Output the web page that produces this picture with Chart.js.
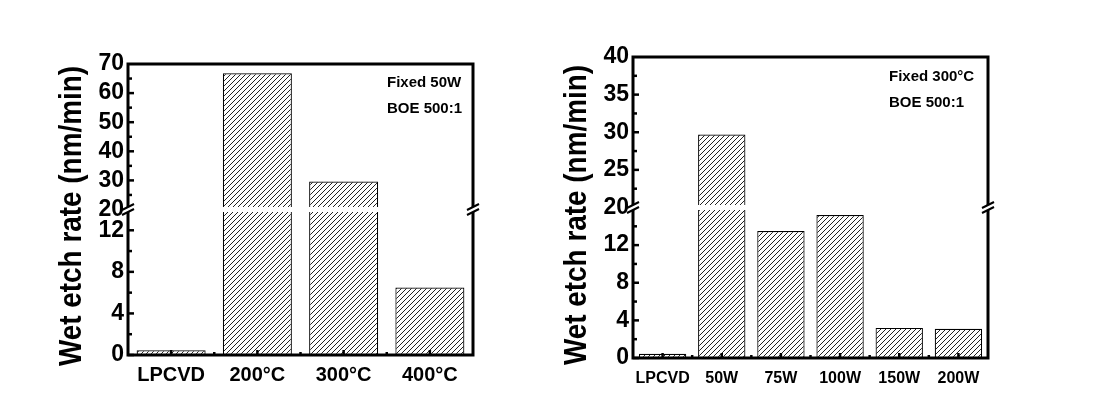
<!DOCTYPE html>
<html>
<head>
<meta charset="utf-8">
<script src="https://cdn.jsdelivr.net/npm/chart.js@4"></script>
<style>
  body { margin: 0; background: #fff; }
  .wrap { position: absolute; top: 0; height: 415px; }
</style>
</head>
<body>
<div class="wrap" style="left:0;width:540px"><canvas id="c1"></canvas></div>
<div class="wrap" style="left:540px;width:555px"><canvas id="c2"></canvas></div>
<script>
// data
const tempLabels = ['LPCVD', '200°C', '300°C', '400°C'];
const tempRates = [0.45, 66.8, 29.6, 6.5];
const powerLabels = ['LPCVD', '50W', '75W', '100W', '150W', '200W'];
const powerRates = [0.45, 29.7, 13.5, 15.2, 3.2, 3.1];

const FONT = "'Liberation Sans', Arial, sans-serif";

function hatch() {
	const s = 5;
	const c = document.createElement('canvas');
	c.width = s; c.height = s;
	const g = c.getContext('2d');
	g.fillStyle = '#fff';
	g.fillRect(0, 0, s, s);
	g.strokeStyle = '#222';
	g.lineWidth = 1;
	g.beginPath();
	g.moveTo(0, s); g.lineTo(s, 0);
	g.moveTo(-1, 1); g.lineTo(1, -1);
	g.moveTo(s - 1, s + 1); g.lineTo(s + 1, s - 1);
	g.stroke();
	return g.createPattern(c, 'repeat');
}

// frame, break, inward ticks, notes, y title
const decor = {
	id: 'decor',
	afterDatasetsDraw(chart, args, o) {
		const ctx = chart.ctx;
		const a = chart.chartArea;
		const yb = chart.scales.y.top;
		ctx.save();
		// white gap through the bars
		ctx.fillStyle = '#fff';
		ctx.fillRect(a.left + 2, yb - 2.5, a.right - a.left - 4, 5);
		// frame
		ctx.strokeStyle = '#000';
		ctx.lineWidth = 3;
		ctx.strokeRect(a.left, a.top, a.right - a.left, a.bottom - a.top);
		// inward ticks on y
		ctx.lineWidth = 2.5;
		for (const id of ['y', 'yTop']) {
			const sc = chart.scales[id];
			sc.ticks.forEach(t => {
				if (t.value === sc.min && id === 'yTop') return;
				if (t.value === sc.max) return;
				const py = sc.getPixelForValue(t.value);
				const len = t.label !== '' ? 6 : 4;
				ctx.beginPath();
				ctx.moveTo(a.left, py);
				ctx.lineTo(a.left + len, py);
				ctx.stroke();
			});
		}
		// x ticks
		const xs = chart.scales.x;
		const n = xs.ticks.length;
		const w = (a.right - a.left) / n;
		for (let i = 0; i < n; i++) {
			const px = xs.getPixelForValue(i);
			ctx.beginPath();
			ctx.moveTo(px, a.bottom);
			ctx.lineTo(px, a.bottom - 5);
			ctx.stroke();
			if (i > 0) {
				ctx.beginPath();
				ctx.moveTo(a.left + i * w, a.bottom);
				ctx.lineTo(a.left + i * w, a.bottom - 3);
				ctx.stroke();
			}
		}
		// axis breaks
		for (const x of [a.left, a.right]) {
			ctx.fillStyle = '#fff';
			ctx.fillRect(x - 3, yb - 2.5, 6, 5);
			ctx.lineWidth = 2;
			ctx.strokeStyle = '#000';
			for (const d of [-2.5, 2.5]) {
				ctx.beginPath();
				ctx.moveTo(x - 6, yb + d + 3);
				ctx.lineTo(x + 6, yb + d - 3);
				ctx.stroke();
			}
		}
		// notes
		ctx.fillStyle = '#000';
		ctx.font = 'bold 15px ' + FONT;
		ctx.textBaseline = 'middle';
		ctx.textAlign = 'left';
		o.notes.forEach((t, i) => ctx.fillText(t, o.noteX, o.noteY + i * 25.5));
		// y title, condensed
		ctx.translate(o.titleX, o.titleY);
		ctx.rotate(-Math.PI / 2);
		ctx.scale(0.9, 1);
		ctx.font = 'bold 31px ' + FONT;
		ctx.textAlign = 'center';
		ctx.fillText('Wet etch rate (nm/min)', 0, 0);
		ctx.restore();
	}
};

function makeChart(el, labels, values, cfg) {
	const pat = hatch();
	const lowMax = cfg.low.max;
	const upMin = cfg.up.min;
	const low = values.map(v => Math.min(v, lowMax));
	const up = values.map(v => v > upMin ? [upMin, v] : null);
	const tickFont = { family: FONT, size: 23, weight: 'bold' };
	return new Chart(el, {
		type: 'bar',
		data: {
			labels: labels,
			datasets: [
				{ data: low, yAxisID: 'y', backgroundColor: pat, borderColor: '#000', borderWidth: 1.2, borderSkipped: false, barPercentage: 0.8, categoryPercentage: 1 },
				{ data: up, yAxisID: 'yTop', backgroundColor: pat, borderColor: '#000', borderWidth: 1.2, borderSkipped: false, barPercentage: 0.8, categoryPercentage: 1, grouped: false }
			]
		},
		options: {
			responsive: true,
			maintainAspectRatio: false,
			animation: false,
			layout: { padding: cfg.pad },
			plugins: {
				legend: { display: false },
				tooltip: { enabled: false },
				decor: cfg.decor
			},
			scales: {
				x: {
					grid: { display: false, drawTicks: false },
					border: { display: false },
					ticks: { color: '#000', font: { family: FONT, size: cfg.xFont, weight: 'bold' }, padding: cfg.xPad, maxRotation: 0, autoSkip: false },
					afterFit: s => { s.height = 40; }
				},
				y: {
					type: 'linear', position: 'left', stack: 'v', stackWeight: 1,
					min: 0, max: lowMax,
					grid: { display: false, drawTicks: false },
					border: { display: false },
					ticks: { stepSize: cfg.low.step, autoSkip: false, color: '#000', font: tickFont, padding: 4,
						callback: v => v % cfg.low.every === 0 && v !== lowMax ? v : '' },
					afterFit: s => { s.width = 40; }
				},
				yTop: {
					type: 'linear', position: 'left', stack: 'v', stackWeight: 1,
					min: upMin, max: cfg.up.max,
					grid: { display: false, drawTicks: false },
					border: { display: false },
					ticks: { stepSize: cfg.up.step, autoSkip: false, color: '#000', font: tickFont, padding: 4,
						callback: v => v % cfg.up.every === 0 ? v : '' },
					afterFit: s => { s.width = 40; }
				}
			}
		},
		plugins: [decor]
	});
}

makeChart(document.getElementById('c1'), tempLabels, tempRates, {
	low: { max: 14, step: 2, every: 4 },
	up: { min: 20, max: 70, step: 5, every: 10 },
	pad: { left: 88, right: 67, top: 64, bottom: 20 },
	xFont: 20, xPad: 8,
	decor: { notes: ['Fixed 50W', 'BOE 500:1'], noteX: 387, noteY: 83, titleX: 72, titleY: 216 }
});

makeChart(document.getElementById('c2'), powerLabels, powerRates, {
	low: { max: 16, step: 2, every: 4 },
	up: { min: 20, max: 40, step: 2.5, every: 5 },
	pad: { left: 53, right: 107, top: 57, bottom: 17 },
	xFont: 16, xPad: 11,
	decor: { notes: ['Fixed 300°C', 'BOE 500:1'], noteX: 349, noteY: 77, titleX: 37, titleY: 215 }
});
</script>
</body>
</html>
